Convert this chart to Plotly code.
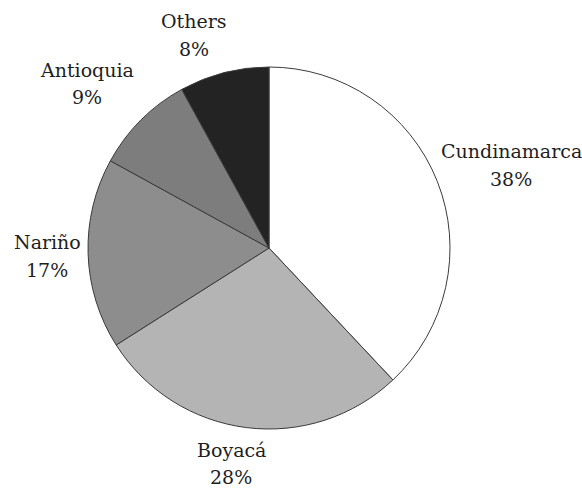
import plotly.graph_objects as go

# Share of production by department (%)
departments = ["Cundinamarca", "Boyacá", "Nariño", "Antioquia", "Others"]
shares = [38, 28, 17, 9, 8]
slice_colors = ["#ffffff", "#b4b4b4", "#8d8d8d", "#7d7d7d", "#232323"]

W, H = 582, 490
cx, cy, r = 269, 248, 181

fig = go.Figure(
    go.Pie(
        labels=departments,
        values=shares,
        sort=False,
        direction="clockwise",
        rotation=0,
        textinfo="none",
        hoverinfo="label+percent",
        marker=dict(colors=slice_colors, line=dict(color="#3a3a3a", width=1)),
        domain=dict(x=[(cx - r) / W, (cx + r) / W], y=[1 - (cy + r) / H, 1 - (cy - r) / H]),
        showlegend=False,
    )
)

# label anchor points (pixels): name line centre, value line centre
label_pos = {
    "Cundinamarca": (511, 151, 179),
    "Boyacá": (231, 450, 477),
    "Nariño": (47, 242, 270),
    "Antioquia": (87, 70, 97),
    "Others": (194, 21, 49),
}

font = dict(family="DejaVu Serif", size=19, color="#1e1e1e")
annotations = []
for name, val in zip(departments, shares):
    x, y1, y2 = label_pos[name]
    for text, y in ((name, y1), (f"{val}%", y2)):
        annotations.append(
            dict(
                x=x / W, y=1 - y / H, xref="paper", yref="paper",
                text=text, showarrow=False, font=font,
                xanchor="center", yanchor="middle",
            )
        )

fig.update_layout(
    width=W, height=H,
    margin=dict(l=0, r=0, t=0, b=0),
    paper_bgcolor="white",
    plot_bgcolor="white",
    annotations=annotations,
)

fig.write_html("out.html")
